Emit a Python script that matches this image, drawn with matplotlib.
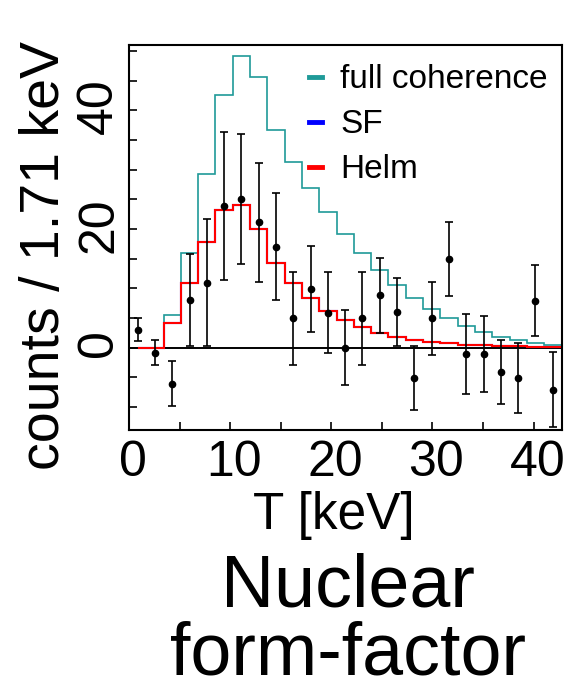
import numpy as np
import matplotlib
matplotlib.use("Agg")
import matplotlib.pyplot as plt
from matplotlib.lines import Line2D
from matplotlib.ticker import FixedLocator, FuncFormatter
import matplotlib.transforms as mtransforms

plt.rcParams['font.family'] = ['Liberation Sans', 'DejaVu Sans']

# 数据: 25 个能量区间, 每个 1.71 keV
bin_width = 1.71
n_bins = 25
counts = [3.0, -0.9, -6.1, 8.0, 10.9, 23.9, 25.0, 21.1, 17.0, 4.9, 9.9, 5.9, 0.0,
          4.9, 8.8, 6.0, -5.1, 4.9, 14.9, -1.1, -1.1, -4.1, -5.1, 7.9, -7.1]
count_err = [1.9, 2.1, 3.8, 7.8, 10.7, 12.5, 11.0, 10.0, 9.0, 7.9, 7.2, 6.9, 6.3,
             7.8, 6.3, 5.8, 5.4, 6.2, 6.2, 6.7, 6.4, 5.4, 5.9, 6.0, 6.3]

full_coherence = [0, 0, 5.45, 16.0, 29.2, 42.5, 49.2, 45.6, 36.6, 31.3, 26.9, 22.8, 19.1,
                  15.85, 13.0, 10.5, 8.4, 6.5, 4.9, 3.65, 2.6, 1.85, 1.2, 0.8, 0.45]
sf = [0, 0, 4.15, 10.9, 17.8, 23.15, 24.05, 19.95, 14.3, 10.85, 8.3, 6.2, 4.7,
      3.5, 2.5, 1.8, 1.35, 0.95, 0.7, 0.5, 0.35, 0.25, 0.2, 0.1, 0.1]
helm = [0, 0, 4.15, 10.9, 17.8, 23.15, 24.05, 19.95, 14.3, 10.85, 8.3, 6.2, 4.7,
        3.5, 2.5, 1.8, 1.35, 0.95, 0.7, 0.5, 0.35, 0.25, 0.2, 0.1, 0.1]

x_ticks = [0, 5, 10, 15, 20, 25, 30, 35, 40]
x_labels = [0, 10, 20, 30, 40]
y_ticks = [-10, -5, 0, 5, 10, 15, 20, 25, 30, 35, 40, 45, 50]
y_labels = [0, 20, 40]

edges = np.arange(n_bins + 1) * bin_width
centers = (edges[:-1] + edges[1:]) / 2
# 直方图从第一个区间中心开始画
draw_edges = edges.copy()
draw_edges[0] = centers[0]

fig = plt.figure(figsize=(5.67, 6.95), dpi=100)
ax = fig.add_axes([0.2275, 0.3813, 0.7635, 0.554])

ax.axhline(0, color='black', lw=1.4, zorder=1)
ax.stairs(full_coherence, draw_edges, baseline=None, color='#1f9a98', lw=1.2, zorder=2)
ax.stairs(sf, draw_edges, baseline=None, color='blue', lw=1.5, zorder=3)
ax.stairs(helm, draw_edges, baseline=None, color='red', lw=1.5, zorder=4)
ax.errorbar(centers, counts, yerr=count_err, fmt='o', color='black', ms=4.5,
            elinewidth=1.2, capsize=2.8, capthick=1.2, zorder=5)

ax.set_xlim(0.0, 42.8)
ax.set_ylim(-13.9, 51)

ax.xaxis.set_major_locator(FixedLocator(x_ticks))
ax.yaxis.set_major_locator(FixedLocator(y_ticks))
ax.xaxis.set_major_formatter(FuncFormatter(lambda v, p: f"{v:.0f}" if round(v) in x_labels else ""))
ax.yaxis.set_major_formatter(FuncFormatter(lambda v, p: f"{v:.0f}" if round(v) in y_labels else ""))
ax.tick_params(direction='in', length=6, width=1.2, labelsize=36, top=False, right=False)
ax.tick_params(axis='x', pad=7)
ax.tick_params(axis='y', pad=5)
for lab in ax.get_yticklabels():
    lab.set_rotation(90)
    lab.set_va('center')

# ROOT 风格的刻度标签偏移
dx = mtransforms.ScaledTranslation(4 / 100, 0, fig.dpi_scale_trans)
dy = mtransforms.ScaledTranslation(0, 4 / 100, fig.dpi_scale_trans)
for lab in ax.get_xticklabels():
    lab.set_transform(lab.get_transform() + dx)
for lab in ax.get_yticklabels():
    lab.set_transform(lab.get_transform() + dy)

for s in ax.spines.values():
    s.set_linewidth(1.5)

ax.set_ylabel("counts / 1.71 keV", fontsize=40, va='center')
ax.yaxis.set_label_coords(-0.193, 0.452)
ax.set_xlabel("T [keV]", fontsize=37, va='center')
ax.xaxis.set_label_coords(0.473, -0.223)

handles = [Line2D([], [], color='#1f9a98', lw=3.5),
           Line2D([], [], color='blue', lw=3.5),
           Line2D([], [], color='red', lw=3.5)]
ax.legend(handles, ["full coherence", "SF", "Helm"], loc='upper left',
          bbox_to_anchor=(0.415, 0.95), frameon=False, fontsize=24,
          handlelength=0.4, handletextpad=0.55, labelspacing=0.42,
          borderpad=0, borderaxespad=0)

fig.text(0.614, 0.106, "Nuclear\nform-factor", fontsize=53, ha='center', va='center',
         linespacing=0.98)

fig.savefig("out.png", dpi=100)
